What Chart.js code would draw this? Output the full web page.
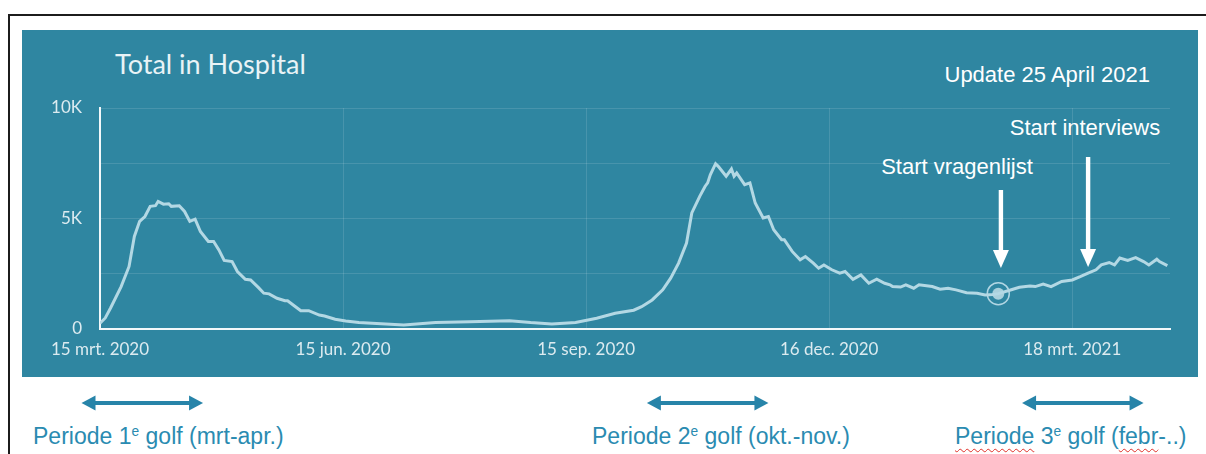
<!DOCTYPE html>
<html>
<head>
<meta charset="utf-8">
<script src="https://cdn.jsdelivr.net/npm/chart.js"></script>
<style>
  body { margin: 0; background: #fff; overflow: hidden; }
  #wrap { position: relative; width: 1206px; height: 454px; overflow: hidden; }
  .frame { position: absolute; left: 8px; top: 14px; width: 1230px; height: 480px; border: 2px solid #1c1c1c; box-sizing: border-box; }
  .panel { position: absolute; left: 22px; top: 30px; width: 1176px; height: 347px; background: #2f86a1; }
  #chartBox { position: absolute; left: 0; top: 0; width: 1206px; height: 454px; }
  .txt { position: absolute; white-space: nowrap; }
  .title { left: 115px; top: 50px; font: 27px/27px Lato, sans-serif; color: #e9f3f6; }
  .note { font: 22px/22px "Liberation Sans", Arial, sans-serif; color: #fff; }
  .period { font: 23px/23px "Liberation Sans", Arial, sans-serif; color: #2a8bb1; }
  .period sup { font-size: 0.6em; vertical-align: 0.6em; line-height: 0; }
  .squig { text-decoration: underline wavy #e0312a; text-decoration-thickness: 1px; text-underline-offset: 4px; }
</style>
</head>
<body>
<div id="wrap">
  <div class="frame"></div>
  <div class="panel"></div>
  <div class="txt title">Total in Hospital</div>
  <div class="txt note" style="right:56px; top:64px;">Update 25 April 2021</div>
  <div class="txt note" style="left:1085px; top:117px; transform:translateX(-50%);">Start interviews</div>
  <div class="txt note" style="left:957px; top:156px; transform:translateX(-50%);">Start vragenlijst</div>
  <div class="txt period" style="left:33px; top:425px;">Periode 1<sup>e</sup> golf (mrt-apr.)</div>
  <div class="txt period" style="left:592px; top:425px;">Periode 2<sup>e</sup> golf (okt.-nov.)</div>
  <div class="txt period" style="left:955px; top:425px;"><span class="squig">Periode</span> 3<sup>e</sup> golf (<span class="squig">febr</span>-..)</div>
  <div id="chartBox"><canvas id="myChart"></canvas></div>
</div>
<script>
// days since 15 mrt. 2020
let hospitalDays = [
  0, 2, 4, 8, 11, 13, 15, 17, 19, 21, 22, 24, 26, 27, 30, 32, 34, 36, 38, 41,
  43, 45, 47, 50, 52, 55, 57, 60, 62, 64, 67, 70, 71, 74, 76, 79, 83, 85, 89, 93,
  98, 103, 115, 127, 140, 155, 163, 171, 180, 188, 195, 202, 205, 209, 213, 216, 219, 222, 224, 227,
  229, 230, 231, 233, 234, 237, 239, 240, 241, 244, 246, 248, 251, 253, 255, 258, 259, 262, 265, 267,
  270, 272, 274, 277, 280, 282, 285, 288, 291, 294, 297, 299, 300, 303, 305, 308, 310, 315, 318, 321,
  324, 328, 332, 335, 338, 340, 344, 348, 352, 354, 357, 360, 364, 368, 371, 374, 377, 379, 382, 384,
  386, 389, 392, 395, 397, 400, 401, 404
];
let hospitalValues = [
  260, 500, 950, 1920, 2830, 4190, 4870, 5090, 5550, 5580, 5770, 5650, 5670, 5550, 5580, 5320, 4870, 4970, 4410, 3960,
  3960, 3580, 3100, 3050, 2600, 2250, 2220, 1870, 1620, 1590, 1390, 1280, 1280, 1010, 830, 830, 630, 590, 440, 360,
  290, 260, 180, 290, 330, 375, 290, 230, 290, 485, 710, 850, 1010, 1315, 1770, 2300, 2980, 3890, 5250, 6000,
  6450, 6610, 6980, 7480, 7360, 6910, 7240, 6910, 7060, 6530, 6610, 5700, 5020, 5090, 4490, 4040, 4040, 3510, 3130, 3280,
  2980, 2750, 2900, 2680, 2530, 2600, 2250, 2450, 2070, 2250, 2070, 2000, 1920, 1900, 2000, 1845, 2000, 1920, 1800, 1845,
  1770, 1645, 1620, 1540, 1560, 1600, 1740, 1890, 1950, 1920, 2030, 1920, 2150, 2220, 2370, 2530, 2680, 2900, 3010, 2900,
  3210, 3100, 3230, 3050, 2900, 3160, 3050, 2870
];

let tickDays = [0, 92, 184, 276, 368];
let tickLabels = ["15 mrt. 2020", "15 jun. 2020", "15 sep. 2020", "16 dec. 2020", "18 mrt. 2021"];

// highlighted point: start vragenlijst
let markerDays = [340];
let markerValues = [1600];

// annotation arrows (days) and the wave periods under the chart
let noteDays = [341, 374];
let periodStart = [-7, 207, 349];
let periodEnd = [39, 253, 395];

const lineColor = "#b3d8e4";
const gridColor = "rgba(255,255,255,0.12)";
const noteTop = [190, 157];
const noteTip = [268, 267];
const periodY = 403;

function downArrow(ctx, x, top, tip) {
  ctx.fillStyle = "#ffffff";
  ctx.fillRect(x - 2.2, top, 4.4, tip - top - 16);
  ctx.beginPath();
  ctx.moveTo(x - 8, tip - 18);
  ctx.lineTo(x + 8, tip - 18);
  ctx.lineTo(x, tip);
  ctx.closePath();
  ctx.fill();
}

function doubleArrow(ctx, x1, x2, y) {
  ctx.fillStyle = "#2784a9";
  ctx.fillRect(x1 + 10, y - 2, x2 - x1 - 20, 4);
  ctx.beginPath();
  ctx.moveTo(x1, y);
  ctx.lineTo(x1 + 14, y - 7.5);
  ctx.lineTo(x1 + 14, y + 7.5);
  ctx.closePath();
  ctx.fill();
  ctx.beginPath();
  ctx.moveTo(x2, y);
  ctx.lineTo(x2 - 14, y - 7.5);
  ctx.lineTo(x2 - 14, y + 7.5);
  ctx.closePath();
  ctx.fill();
}

const arrowPlugin = {
  id: "arrows",
  afterDraw(chart) {
    let ctx = chart.ctx;
    let xs = chart.scales.x;
    ctx.save();
    noteDays.forEach((d, i) => {
      downArrow(ctx, xs.getPixelForValue(d), noteTop[i], noteTip[i]);
    });
    periodStart.forEach((d, i) => {
      doubleArrow(ctx, xs.getPixelForValue(d), xs.getPixelForValue(periodEnd[i]), periodY);
    });
    ctx.restore();
  },
};

const data = {
  datasets: [
    {
      label: "Total in Hospital",
      data: hospitalDays.map((d, i) => ({ x: d, y: hospitalValues[i] })),
      borderColor: lineColor,
      borderWidth: 3,
      pointRadius: 0,
      tension: 0,
      fill: false,
    },
    {
      label: "ring",
      data: markerDays.map((d, i) => ({ x: d, y: markerValues[i] })),
      showLine: false,
      pointRadius: 11,
      pointBorderWidth: 1.5,
      pointBorderColor: "rgba(200,228,238,0.85)",
      pointBackgroundColor: "rgba(0,0,0,0)",
    },
    {
      label: "dot",
      data: markerDays.map((d, i) => ({ x: d, y: markerValues[i] })),
      showLine: false,
      pointRadius: 6,
      pointBorderWidth: 0,
      pointBackgroundColor: "#a9d0dc",
    },
  ],
};

const config = {
  type: "line",
  data,
  options: {
    responsive: true,
    maintainAspectRatio: false,
    animation: false,
    layout: { padding: { top: 108, right: 36, left: 0, bottom: 0 } },
    plugins: { legend: { display: false }, tooltip: { enabled: false } },
    scales: {
      x: {
        type: "linear",
        min: 0,
        max: 405,
        afterBuildTicks: (scale) => {
          scale.ticks = tickDays.map((v) => ({ value: v }));
        },
        afterFit: (scale) => {
          scale.height = 125;
        },
        grid: { color: gridColor, drawTicks: false },
        border: { color: "#f2f8fa", width: 2 },
        ticks: {
          padding: 10,
          maxRotation: 0,
          autoSkip: false,
          color: "#dcebf0",
          font: { family: "Lato", size: 17 },
          callback: (v) => tickLabels[tickDays.indexOf(v)],
        },
      },
      y: {
        min: 0,
        max: 10000,
        afterFit: (scale) => {
          scale.width = 100;
        },
        grid: { color: gridColor, drawTicks: false },
        border: { color: "#f2f8fa", width: 2 },
        ticks: {
          stepSize: 2500,
          padding: 18,
          color: "#dcebf0",
          font: { family: "Lato", size: 17 },
          callback: (v) => (v === 0 ? "0" : v % 5000 === 0 ? v / 1000 + "K" : ""),
        },
      },
    },
  },
  plugins: [arrowPlugin],
};

let myChart = new Chart(document.getElementById("myChart"), config);
</script>
</body>
</html>
